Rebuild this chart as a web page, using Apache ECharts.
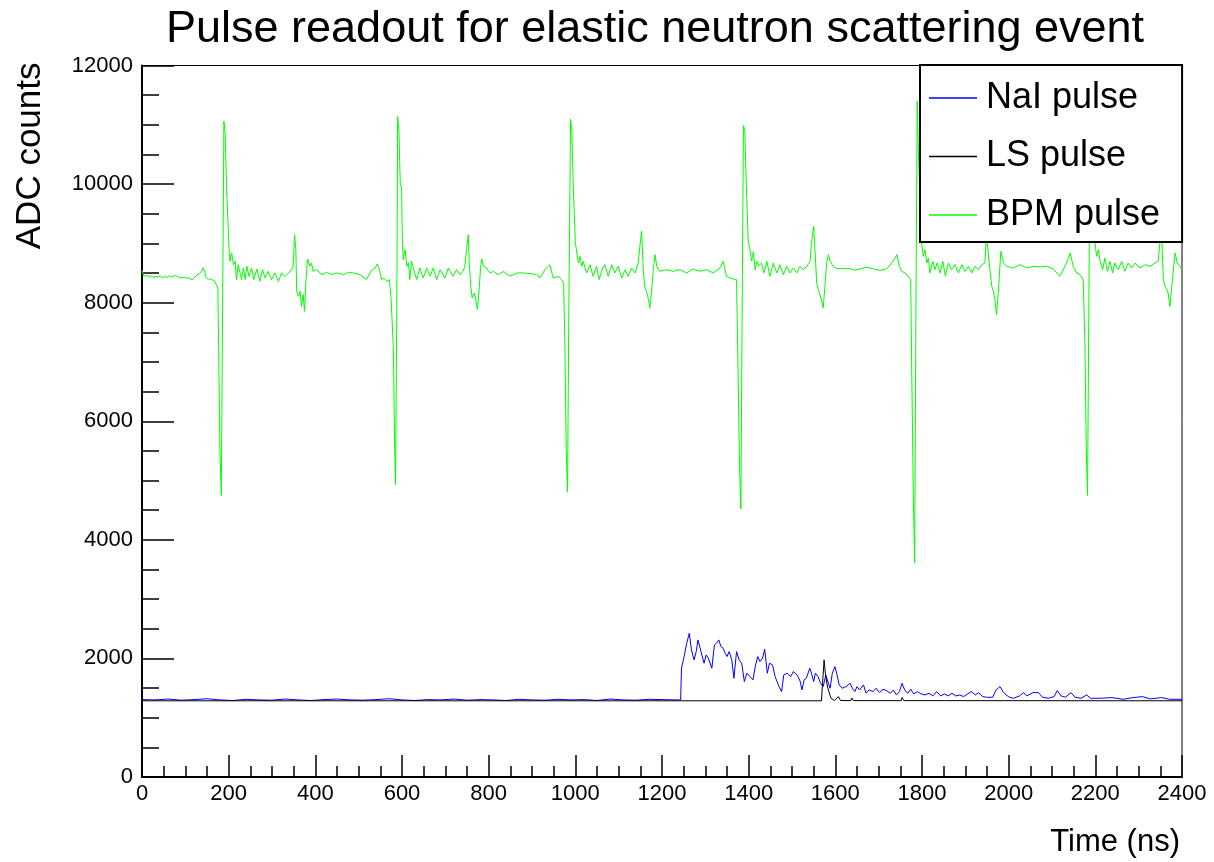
<!DOCTYPE html>
<html><head><meta charset="utf-8">
<script src="https://cdn.jsdelivr.net/npm/echarts@6/dist/echarts.min.js"></script>
<style>html,body{margin:0;padding:0;background:#fff}#c{width:1214px;height:862px}</style>
</head><body><div id="c"></div>
<script>
const chartTitle = 'Pulse readout for elastic neutron scattering event';
const xName = 'Time (ns)';
const yName = 'ADC counts';
const seriesNames = ['NaI pulse', 'LS pulse', 'BPM pulse'];

const naiTime = [0,30,60,90,120,150,180,210,240,270,300,330,360,390,420,450,480,510,540,570,600,630,660,690,720,750,780,810,840,870,900,930,960,990,1020,1050,1080,1110,1140,1170,1200,1230,1243,
1245,1251,1257,1263,1268,1274,1279,1283,1290,1297,1302,1307,1315,1321,1326,1331,1336,1341,1346,1350,1355,1361,1366,1372,1378,1384,1390,1396,1403,1410,1416,1421,1426,1432,1437,1443,1448,1455,1461,1470,1476,1481,1489,1497,1503,1508,1514,1519,1523,1528,1533,1541,1545,1550,1554,1560,1566,1572,1578,1584,1588,1593,1599,1604,1609,1616,1625,1634,1639,1645,1650,1656,1665,1671,1678,1687,1694,1702,1710,1718,1727,1734,1741,1748,1754,1760,1767,1774,1781,1789,1798,1807,1816,1825,1834,1843,1852,1860,1869,1878,1887,1896,1905,1914,1923,1931,1940,1949,1963,1971,1980,1987,1994,2002,2011,2025,2034,2042,2056,2069,2078,2091,2105,2112,2121,2131,2144,2153,2167,2180,2189,2211,2238,2264,2287,2309,2327,2353,2371,2398,2400];
const naiCounts = [1305,1300,1315,1295,1305,1320,1300,1290,1310,1300,1295,1315,1300,1290,1305,1315,1300,1295,1305,1320,1300,1290,1305,1300,1315,1295,1305,1300,1290,1310,1300,1295,1310,1300,1305,1290,1315,1300,1295,1310,1305,1300,1300,
1835,2031,2256,2425,2143,1975,2115,2312,2115,1919,2059,2003,1835,2228,2256,2312,2200,2172,2087,2031,2115,1975,1666,2115,1975,1919,1610,1750,1694,1638,1891,2031,1947,2003,2155,1750,1919,1891,1694,1525,1440,1722,1750,1694,1778,1750,1694,1610,1468,1638,1666,1835,1750,1610,1750,1694,1581,1525,1722,1581,1497,1750,1862,1722,1553,1497,1525,1581,1497,1440,1525,1468,1553,1412,1468,1440,1497,1423,1480,1457,1412,1468,1384,1440,1581,1468,1412,1480,1401,1440,1401,1384,1412,1367,1440,1367,1401,1367,1412,1367,1384,1356,1401,1440,1384,1423,1356,1345,1345,1468,1525,1440,1384,1345,1328,1367,1423,1367,1423,1423,1345,1328,1356,1457,1367,1345,1423,1345,1328,1384,1328,1328,1339,1311,1339,1356,1317,1339,1311,1311,1305];

const lsTime = [0,1568,1570,1574,1577,1581,1585,1590,1598,1607,1612,1636,1638,1642,1703,1705,1709,1752,1754,1758,1851,1853,1857,2400];
const lsCounts = [1285,1285,1525,1975,1750,1553,1440,1328,1290,1356,1290,1288,1330,1288,1288,1310,1288,1288,1340,1288,1288,1310,1288,1285];

const bpmTime = [0,4,8,12,17,22,27,32,37,42,47,52,57,62,67,72,77,82,87,92,97,102,107,112,117,122,127,132,137,141,144,148,153,158,163,168,172,175,177,180,183,186,189,192,195,198,201,203,207,211,215,218,222,226,230,234,238,242,247,253,258,265,272,278,284,291,299,307,315,322,330,338,345,349,352,355,357,361,365,368,372,375,378,382,388,391,395,403,415,426,438,449,465,476,488,503,518,528,538,543,548,553,558,565,571,575,580,583,585,588,590,593,596,599,601,603,607,611,615,618,622,626,634,641,649,657,665,672,680,688,699,707,711,718,726,734,741,745,749,753,755,759,762,767,771,774,778,781,784,788,795,803,811,822,834,849,865,880,895,911,918,930,941,949,961,968,973,976,979,982,985,989,992,995,998,1000,1003,1007,1011,1015,1018,1026,1034,1041,1049,1055,1063,1068,1076,1084,1091,1099,1107,1115,1122,1130,1138,1145,1149,1153,1157,1161,1165,1168,1172,1176,1180,1184,1188,1195,1211,1226,1241,1257,1272,1288,1303,1318,1334,1341,1349,1357,1365,1372,1375,1379,1382,1385,1388,1391,1394,1397,1399,1403,1407,1411,1415,1419,1423,1430,1435,1442,1449,1457,1465,1472,1480,1488,1495,1503,1511,1518,1526,1534,1542,1545,1550,1553,1557,1561,1565,1568,1572,1576,1580,1584,1588,1595,1603,1618,1634,1645,1657,1672,1688,1703,1718,1730,1738,1742,1748,1753,1761,1768,1774,1776,1780,1783,1786,1789,1792,1795,1799,1803,1807,1811,1815,1818,1825,1830,1835,1842,1848,1854,1861,1868,1876,1884,1892,1899,1907,1915,1922,1930,1938,1945,1949,1955,1961,1965,1968,1972,1976,1982,1988,1995,2011,2026,2042,2057,2072,2088,2103,2118,2130,2138,2142,2149,2157,2165,2172,2176,2179,2182,2185,2188,2191,2194,2197,2199,2203,2207,2211,2217,2222,2228,2234,2240,2245,2253,2261,2268,2276,2284,2292,2303,2315,2326,2338,2345,2349,2353,2357,2361,2365,2368,2372,2378,2384,2389,2395,2400];
const bpmCounts = [8546,8450,8440,8455,8430,8450,8425,8445,8430,8450,8420,8440,8425,8450,8430,8445,8465,8440,8430,8415,8430,8410,8420,8395,8390,8430,8470,8490,8515,8590,8540,8420,8395,8400,8380,8360,8385,8248,7150,5450,4750,7900,11060,10860,9960,9950,8900,8698,8838,8641,8698,8388,8641,8613,8388,8585,8388,8613,8444,8585,8388,8568,8360,8557,8416,8529,8388,8501,8360,8501,8444,8501,8557,8613,9148,8895,8191,8107,8191,7938,8135,7854,8332,8737,8613,8669,8529,8557,8473,8512,8473,8501,8473,8512,8501,8473,8388,8529,8585,8652,8557,8388,8416,8360,8388,8051,7235,5600,4930,7900,11140,10890,10000,9950,9000,8726,8895,8613,8669,8388,8698,8585,8388,8585,8416,8585,8444,8585,8388,8557,8416,8585,8529,8444,8557,8473,8529,8613,8895,9148,8698,8248,8079,8163,8022,7882,8219,8557,8737,8613,8585,8501,8529,8473,8529,8444,8501,8501,8490,8473,8416,8557,8641,8416,8444,8388,8332,7235,5540,4805,7900,11090,10890,10020,10000,9010,8985,8669,8782,8613,8698,8501,8641,8444,8613,8388,8585,8641,8444,8641,8501,8613,8416,8557,8444,8585,8501,8669,8951,9204,8501,8248,8163,8079,7910,8191,8557,8810,8613,8529,8557,8529,8557,8501,8568,8529,8557,8501,8585,8698,8444,8416,8399,8388,7066,5254,4523,7900,10990,10900,10100,10080,9035,8900,8700,8860,8550,8700,8620,8669,8501,8698,8444,8669,8501,8641,8473,8613,8501,8585,8501,8613,8557,8613,8698,9007,9290,8895,8332,8219,8191,8051,7910,8276,8669,8810,8698,8613,8574,8574,8574,8546,8568,8602,8568,8546,8568,8669,8754,8810,8613,8529,8501,8444,8388,7038,4748,3612,7900,11400,10470,9800,9007,8782,8895,8669,8754,8501,8698,8557,8669,8501,8698,8444,8669,8557,8641,8501,8641,8529,8613,8501,8613,8557,8641,8669,9150,8669,8276,8191,8051,7797,8163,8866,8669,8613,8585,8641,8585,8613,8602,8613,8568,8444,8613,8754,8838,8613,8501,8473,8388,7319,5570,4748,7900,11000,10800,9900,9600,9007,8782,8895,8698,8557,8754,8529,8698,8501,8669,8557,8698,8529,8669,8585,8669,8585,8641,8613,8669,8698,9007,9150,8388,8276,8219,8163,7938,8388,8838,8669,8613,8560];

const xTickStep = 200;
const yTickStep = 2000;

function pairs(t, v) { return t.map((x, i) => [x, v[i]]); }
const plain = v => String(v);

const FONT = "'Liberation Sans', Arial, Helvetica, sans-serif";
const chart = echarts.init(document.getElementById('c'), null, {renderer: 'canvas'});
chart.setOption({
  animation: false,
  backgroundColor: '#fff',
  title: {
    text: chartTitle, left: 161, top: 2,
    textStyle: {fontFamily: FONT, fontSize: 45, fontWeight: 'normal', color: '#000'}
  },
  legend: {
    orient: 'vertical', left: 920, top: 65,
    data: seriesNames,
    icon: 'rect',
    backgroundColor: '#fff', borderColor: '#000', borderWidth: 2, borderRadius: 0,
    padding: [13, 22, 7, 9],
    itemWidth: 48, itemHeight: 1.5, itemGap: 18.5,
    textStyle: {fontFamily: FONT, fontSize: 36, color: '#000', lineHeight: 40, padding: [0, 0, 0, 4]}
  },
  grid: {left: 142, right: 32, top: 65.5, bottom: 85, show: true, borderColor: '#000', borderWidth: 1, outerBoundsMode: 'none'},
  xAxis: {
    type: 'value', min: 0, max: 2400, interval: xTickStep,
    name: xName, nameLocation: 'end', nameGap: 0,
    nameTextStyle: {fontFamily: FONT, fontSize: 31, color: '#000', align: 'right', verticalAlign: 'top', padding: [50, 2, 0, 0]},
    axisLine: {show: true, lineStyle: {color: '#000', width: 2}},
    axisTick: {show: true, inside: true, length: 22, lineStyle: {color: '#000', width: 1.5}},
    minorTick: {show: true, splitNumber: 4, length: 11, lineStyle: {color: '#000', width: 1.5}},
    axisLabel: {fontFamily: FONT, fontSize: 22, color: '#000', margin: 6, formatter: plain},
    splitLine: {show: false}, minorSplitLine: {show: false}
  },
  yAxis: {
    type: 'value', min: 0, max: 12000, interval: yTickStep,
    name: yName, nameLocation: 'end', nameGap: 3, nameRotate: 90,
    nameTextStyle: {fontFamily: FONT, fontSize: 35, color: '#000', align: 'right', verticalAlign: 'bottom', padding: [0, 0, 94, 0]},
    axisLine: {show: true, lineStyle: {color: '#000', width: 2}},
    axisTick: {show: true, inside: true, length: 32, lineStyle: {color: '#000', width: 1.5}},
    minorTick: {show: true, splitNumber: 4, length: 17, lineStyle: {color: '#000', width: 1.5}},
    axisLabel: {fontFamily: FONT, fontSize: 22, color: '#000', margin: 9, formatter: plain},
    splitLine: {show: false}, minorSplitLine: {show: false}
  },
  series: [
    {name: seriesNames[0], type: 'line', data: pairs(naiTime, naiCounts), symbol: 'none',
     lineStyle: {color: '#0000ff', width: 1}, itemStyle: {color: '#0000ff'}},
    {name: seriesNames[1], type: 'line', data: pairs(lsTime, lsCounts), symbol: 'none',
     lineStyle: {color: '#000000', width: 1}, itemStyle: {color: '#000000'}},
    {name: seriesNames[2], type: 'line', data: pairs(bpmTime, bpmCounts), symbol: 'none',
     lineStyle: {color: '#00ff00', width: 1}, itemStyle: {color: '#00ff00'}}
  ]
});
</script>
</body></html>
